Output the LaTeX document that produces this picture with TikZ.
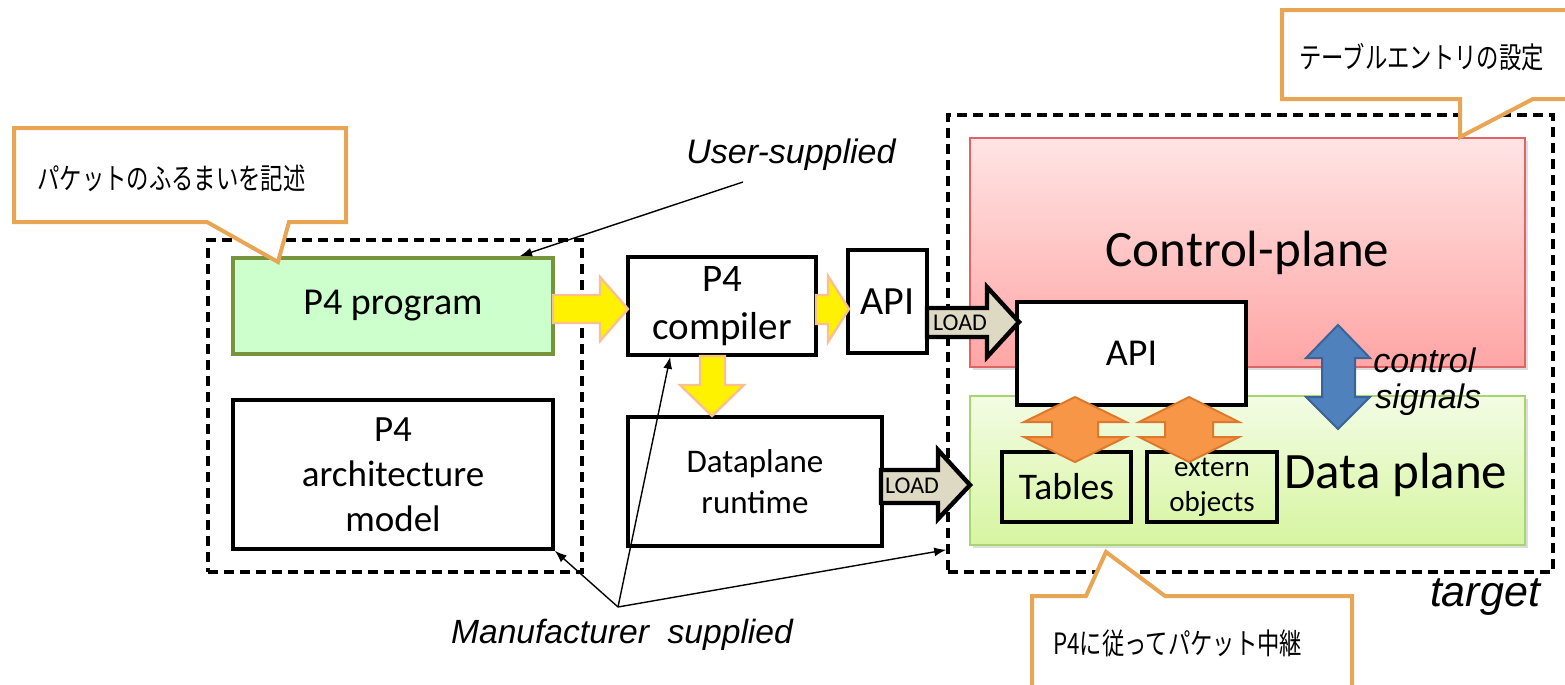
\documentclass[tikz,border=0pt]{standalone}
\usepackage{fontspec}
\setmainfont{Carlito}
\newfontfamily\jpfont[FakeStretch=0.76]{Noto Sans CJK JP}
\newfontfamily\arialfont{Liberation Sans}
\usetikzlibrary{shadows,arrows.meta,calc}

\definecolor{calloutc}{RGB}{232,165,84}
\definecolor{progfill}{RGB}{204,255,204}
\definecolor{progline}{RGB}{119,147,60}
\definecolor{yellowline}{RGB}{250,192,144}
\definecolor{loadfill}{RGB}{221,217,195}
\definecolor{orangefill}{RGB}{247,150,70}
\definecolor{orangeline}{RGB}{222,120,45}
\definecolor{bluefill}{RGB}{79,129,189}
\definecolor{blueline}{RGB}{58,100,150}
\definecolor{cptop}{RGB}{255,228,228}
\definecolor{cpbot}{RGB}{255,165,165}
\definecolor{cpline}{RGB}{224,100,100}
\definecolor{dptop}{RGB}{243,252,228}
\definecolor{dpbot}{RGB}{214,245,160}
\definecolor{dpline}{RGB}{168,214,110}

\begin{document}
\begin{tikzpicture}[x=0.5pt,y=-0.5pt,
  callout/.style={draw=calloutc, line width=2pt, fill=white, line join=miter},
  jptext/.style={font=\jpfont\fontsize{14.7}{16}\selectfont, anchor=west, inner sep=0},
  dashbox/.style={draw=black, line width=1.8pt, dash pattern=on 5pt off 3pt, inner sep=0},
  blkbox/.style={draw=black, line width=1.8pt, fill=white, inner sep=0, align=center},
  yarrow/.style={fill=yellow, draw=yellowline, line width=1.2pt, line join=miter},
  loadarrow/.style={fill=loadfill, draw=black, line width=2.2pt, line join=miter},
  oarrow/.style={fill=orangefill, draw=orangeline, line width=1pt, line join=miter},
  barrow/.style={fill=bluefill, draw=blueline, line width=1pt, line join=miter},
  thinarrow/.style={draw=black, line width=0.7pt, -{Latex[length=6pt,width=4.5pt]}},
  itlabel/.style={font=\arialfont\itshape\fontsize{17}{20}\selectfont, inner sep=0},
  loadtext/.style={font=\fontsize{12}{14}\selectfont, inner sep=0},
  plshadow/.style={drop shadow={shadow xshift=1.5pt, shadow yshift=-1.5pt, opacity=0.22, fill=black!60}}
]
\useasboundingbox (0,0) rectangle (1565,685);
\clip (0,0) rectangle (1565,685);

% ---------- left group ----------
\node[dashbox, minimum width=187pt, minimum height=166pt] (leftgrp) at (395,406) {};
\node[fill=progfill, draw=progline, line width=2pt, inner sep=0, minimum width=160pt, minimum height=48pt,
      font=\fontsize{19}{23}\selectfont] (prog) at (393,306) {P4 program};
\node[blkbox, minimum width=160pt, minimum height=74.5pt, font=\fontsize{18.5}{22.5}\selectfont] (arch)
      at (393,474.5) {P4\\architecture\\model};

% ---------- middle ----------
\node[blkbox, minimum width=94pt, minimum height=49pt, font=\fontsize{19.5}{24}\selectfont] (comp)
      at (722,306) {P4\\compiler};
\node[blkbox, minimum width=39.5pt, minimum height=51.5pt, font=\fontsize{20}{24}\selectfont] (apis)
      at (887.5,301.5) {API};
\node[blkbox, minimum width=127pt, minimum height=64.5pt, font=\fontsize{16.5}{20.5}\selectfont] (dprt)
      at (755,481.5) {Dataplane\\runtime};

% ---------- target ----------
\node[dashbox, minimum width=302.5pt, minimum height=228.5pt] (tgt) at (1250.5,343.5) {};
\node[draw=cpline, line width=0.6pt, top color=cptop, bottom color=cpbot, inner sep=0,
      minimum width=277.5pt, minimum height=114.5pt, font=\fontsize{25.5}{30}\selectfont, plshadow]
      (cp) at (1247.5,252.5) {\raisebox{-2.5pt}{Control-plane}};
\node[draw=dpline, line width=0.6pt, top color=dptop, bottom color=dpbot, inner sep=0,
      minimum width=277.5pt, minimum height=74.5pt, plshadow] (dp) at (1247.5,470.5) {};
\node[font=\fontsize{25.5}{30}\selectfont, inner sep=0] (dplabel) at (1396,475) {Data plane};
\node[blkbox, minimum width=114.5pt, minimum height=51.5pt, font=\fontsize{19}{23}\selectfont] (apib)
      at (1131.5,353.5) {API};
\node[draw=black, line width=1.8pt, inner sep=0, align=center, minimum width=64.5pt, minimum height=35pt,
      font=\fontsize{18.8}{22}\selectfont] (tables) at (1066.5,487) {Tables};
\node[draw=black, line width=1.8pt, inner sep=0, align=center, minimum width=65pt, minimum height=35pt,
      font=\fontsize{14.5}{17.5}\selectfont] (extern) at (1212,487) {extern\\objects};

% ---------- block arrows ----------
\draw[yarrow] (553,295) -- (600,295) -- (600,277) -- (628,309) -- (600,341) -- (600,323) -- (553,323) -- cycle;
\draw[yarrow] (816,295) -- (828,295) -- (828,276) -- (849,309) -- (828,342) -- (828,324) -- (816,324) -- cycle;
\draw[yarrow] (700,356) -- (725,356) -- (725,385) -- (744,385) -- (712,416) -- (680,385) -- (700,385) -- cycle;

\draw[loadarrow] (927,308) -- (987,308) -- (987,287) -- (1019,322) -- (987,357) -- (987,337) -- (927,337) -- cycle;
\node[loadtext] (load1) at (960,323) {LOAD};
\draw[loadarrow] (881,470) -- (938,470) -- (938,450) -- (970,485) -- (938,519) -- (938,503) -- (881,503) -- cycle;
\node[loadtext] (load2) at (912,486) {LOAD};

\draw[oarrow] (1075,397) -- (1126,422) -- (1098,422) -- (1098,437) -- (1126,437) -- (1075,462)
   -- (1024,437) -- (1052,437) -- (1052,422) -- (1024,422) -- cycle;
\draw[oarrow] (1189,397) -- (1239,422) -- (1213,422) -- (1213,437) -- (1239,437) -- (1189,462)
   -- (1139,437) -- (1165,437) -- (1165,422) -- (1139,422) -- cycle;
\draw[barrow] (1338,325) -- (1370,358) -- (1355,358) -- (1355,397) -- (1370,397) -- (1338,429)
   -- (1306,397) -- (1322,397) -- (1322,358) -- (1306,358) -- cycle;

\node[itlabel, anchor=west] (ctl) at (1373,360) {control};
\node[itlabel, anchor=west] (sig) at (1375,400) {signals};
\node[itlabel, font=\arialfont\itshape\fontsize{21.5}{25}\selectfont] (tlabel) at (1485,597) {target};

% ---------- thin connectors ----------
\node[itlabel] (user) at (791,155) {User-supplied};
\coordinate (usrc) at (743,182);
\draw[thinarrow] (usrc) -- ($(prog.north east)+(-35,0)$);

\node[itlabel, font=\arialfont\itshape\fontsize{16.8}{20}\selectfont] (manu) at (622,635) {Manufacturer\ \ supplied};
\coordinate (msrc) at (618,607);
\draw[thinarrow] (msrc) -- (arch.south east);
\draw[thinarrow] (msrc) -- ($(comp.south west)+(44,0)$);
\draw[thinarrow] (msrc) -- ($(tgt.south west)+(0,-24)$);

% ---------- callouts ----------
\draw[callout] (14,128) -- (346,128) -- (346,222) -- (289,222) -- (278,262) -- (207,222) -- (14,222) -- cycle;
\node[jptext] (c1) at (37,178) {パケットのふるまいを記述};

\draw[callout] (1282,10) -- (1580,10) -- (1580,99) -- (1533,99) -- (1460,137) -- (1460,99) -- (1282,99) -- cycle;
\node[jptext] (c2) at (1299,57) {テーブルエントリの設定};

\draw[callout] (1032,596) -- (1086,596) -- (1106,552) -- (1165,596) -- (1352,596) -- (1352,700) -- (1032,700) -- cycle;
\node[jptext] (c3) at (1053,643) {P4に従ってパケット中継};
\end{tikzpicture}
\end{document}
